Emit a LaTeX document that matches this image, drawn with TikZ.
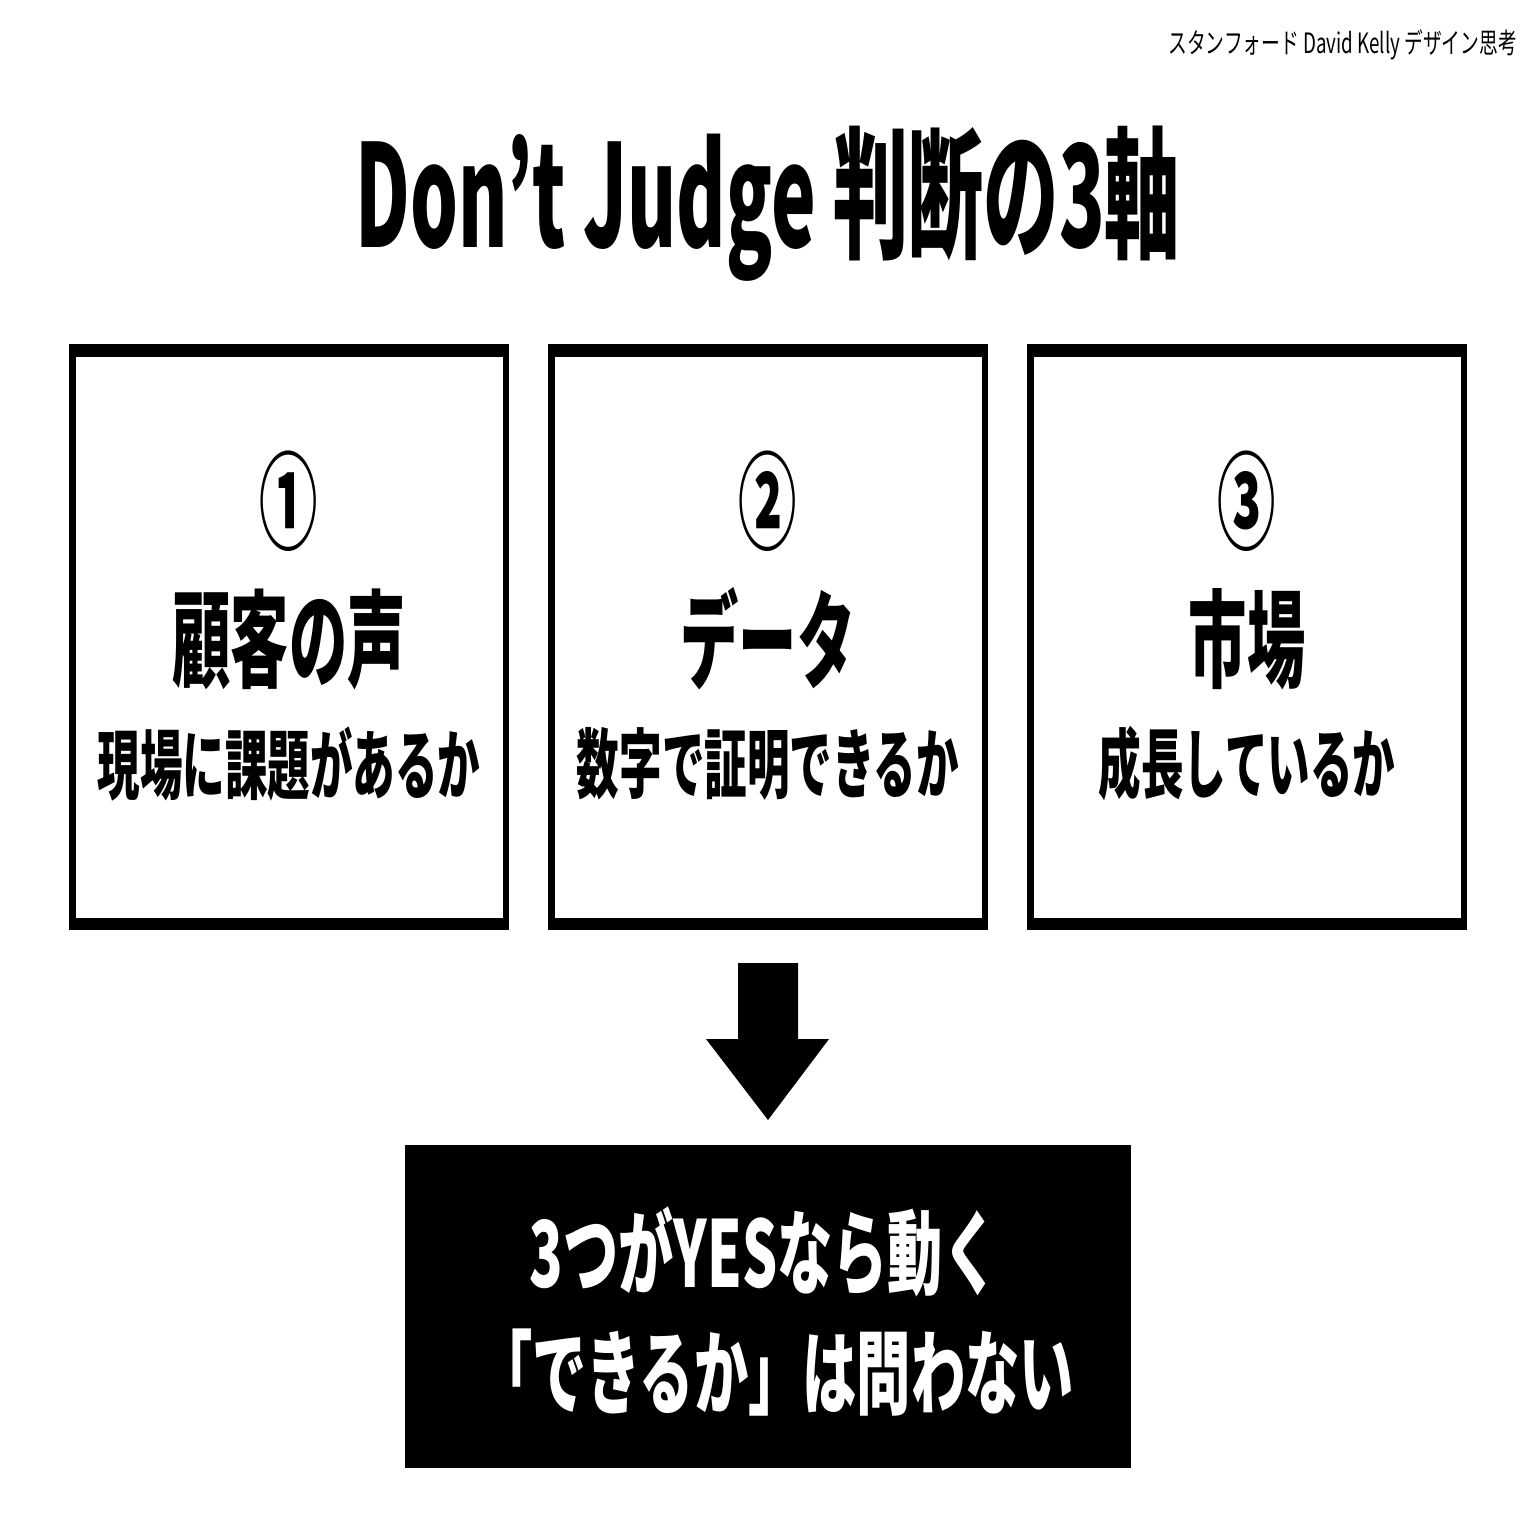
\documentclass[tikz,border=0pt]{standalone}
\usepackage{graphicx}
\usepackage{fontspec}
\newfontfamily\jp{Noto Sans CJK JP}
\newcommand\squeeze[2]{\scalebox{#1}[1]{#2}}
\begin{document}
\begin{tikzpicture}[x=0.5pt,y=-0.5pt,
  outerbox/.style={fill=black,draw=none,inner sep=0pt,minimum width=220pt,minimum height=293pt},
  innerbox/.style={fill=white,draw=none,inner sep=0pt,minimum width=213.5pt,minimum height=280.5pt},
  txt/.style={inner sep=0pt,outer sep=0pt},
  ttl/.style={txt,font=\jp\bfseries\fontsize{71pt}{80pt}\selectfont},
  note/.style={txt,font=\jp\fontsize{14pt}{16pt}\selectfont},
  num/.style={txt,font=\jp\bfseries\fontsize{53pt}{60pt}\selectfont},
  head/.style={txt,font=\jp\bfseries\fontsize{53pt}{60pt}\selectfont},
  sub/.style={txt,font=\jp\bfseries\fontsize{38pt}{44pt}\selectfont},
  concl/.style={txt,text=white,font=\jp\bfseries\fontsize{46pt}{52pt}\selectfont},
  blockarrow/.style={fill=black,draw=none}]
\useasboundingbox (0,0) rectangle (1536,1536);
\fill[white] (0,0) rectangle (1536,1536);

% top-right note
\node[note,anchor=base east] (src) at (1517,54) {\squeeze{0.67}{スタンフォード David Kelly デザイン思考}};

% title
\node[ttl,anchor=base] (title) at (768,247) {\squeeze{0.53}{Don’t Judge 判断の3軸}};

% boxes
\foreach \i/\cx in {1/289,2/768,3/1247}{
  \node[outerbox] (ob\i) at (\cx,637) {};
  \node[innerbox] (ib\i) at (\cx,637) {};
}

% circled numbers
\node[num] (n1) at (289,501) {\squeeze{0.55}{①}};
\node[num] (n2) at (768,501) {\squeeze{0.55}{②}};
\node[num] (n3) at (1247,501) {\squeeze{0.55}{③}};

% headings
\node[head] (h1) at (289,639) {\squeeze{0.55}{顧客の声}};
\node[head] (h2) at (768,639) {\squeeze{0.55}{データ}};
\node[head] (h3) at (1247,639) {\squeeze{0.55}{市場}};

% sub lines
\node[sub] (s1) at (289,764) {\squeeze{0.56}{現場に課題があるか}};
\node[sub] (s2) at (768,764) {\squeeze{0.56}{数字で証明できるか}};
\node[sub] (s3) at (1247,764) {\squeeze{0.56}{成長しているか}};

% block arrow
\fill[blockarrow] (738,963) -- (798,963) -- (798,1039) -- (829,1039) -- (768,1120) -- (706,1039) -- (738,1039) -- cycle;

% conclusion box
\node[fill=black,draw=none,inner sep=0pt,minimum width=363pt,minimum height=161.5pt] (res) at (768,1306.5) {};
\node[concl] (c1) at (764,1252) {\squeeze{0.6}{3つがYESなら動く}};
\node[concl] (c2) at (776,1373) {\squeeze{0.59}{「できるか」は問わない}};
\end{tikzpicture}
\end{document}
